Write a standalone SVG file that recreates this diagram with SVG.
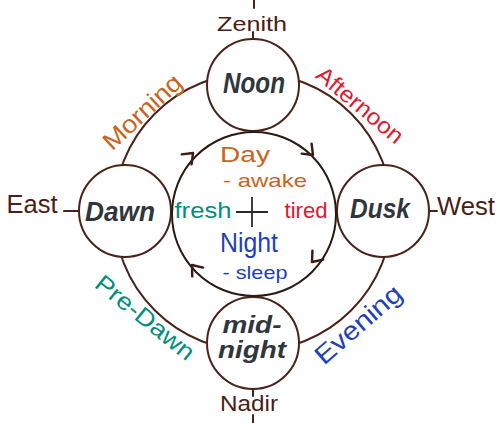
<svg xmlns="http://www.w3.org/2000/svg" width="500" height="423" viewBox="0 0 500 423">
<defs>
<style>
.ln{fill:none;stroke:#4b2219;stroke-width:2;stroke-linecap:round}
.node{fill:#ffffff;stroke:#4b2219;stroke-width:2}
.nm{font-family:"Liberation Sans",Arial,sans-serif;font-style:italic;font-weight:bold;fill:#30363c;text-anchor:middle}
.dir{font-family:"Liberation Sans",Arial,sans-serif;fill:#4a1e14;text-anchor:middle}
.lab{font-family:"Liberation Sans",Arial,sans-serif;text-anchor:middle}
.chev{fill:none;stroke:#3a1a12;stroke-width:2.4;stroke-linecap:round;stroke-linejoin:round}
</style>
<path id="chev" d="M-9,-7 L0,0 L-9,7"/>
</defs>
<rect width="500" height="423" fill="#ffffff"/>

<g id="connectors">
<path class="ln" d="M114,212 A139,139 0 0 1 253,73"/>
<path class="ln" d="M253,73 A139,139 0 0 1 392,212"/>
<path class="ln" d="M392,212 A139,139 0 0 1 253,351"/>
<path class="ln" d="M253,351 A139,139 0 0 1 114,212"/>
<path class="ln" d="M254,0 V8 M253,32 V39 M253,389 V396 M253,415 V423 M64,211 H79 M429,211 H437"/>
</g>

<g id="noon">
<circle class="node" cx="253" cy="85" r="46"/>
<text class="nm" x="254" y="93" font-size="30" textLength="62" lengthAdjust="spacingAndGlyphs">Noon</text>
</g>
<g id="dawn">
<circle class="node" cx="125" cy="211" r="46"/>
<text class="nm" x="120" y="221" font-size="27" textLength="70" lengthAdjust="spacingAndGlyphs">Dawn</text>
</g>
<g id="dusk">
<circle class="node" cx="383" cy="211" r="46"/>
<text class="nm" x="380" y="218" font-size="27" textLength="60" lengthAdjust="spacingAndGlyphs">Dusk</text>
</g>
<g id="midnight">
<circle class="node" cx="253" cy="343" r="46"/>
<text class="nm" x="252" y="333" font-size="23" textLength="59" lengthAdjust="spacingAndGlyphs">mid-</text>
<text class="nm" x="252" y="358" font-size="23" textLength="68" lengthAdjust="spacingAndGlyphs">night</text>
</g>

<g id="cycle">
<circle cx="254" cy="214" r="82" fill="none" stroke="#2a1a14" stroke-width="2"/>
<use href="#chev" class="chev" transform="translate(193,153) rotate(-45)"/>
<use href="#chev" class="chev" transform="translate(313,155) rotate(45)"/>
<use href="#chev" class="chev" transform="translate(312,262) rotate(130)"/>
<use href="#chev" class="chev" transform="translate(192,265) rotate(231)"/>
<path d="M236,212 H268 M252,197 V227" fill="none" stroke="#2a2a2a" stroke-width="1.8"/>
<text class="lab" x="245" y="162" font-size="22" fill="#c8641e" textLength="50" lengthAdjust="spacingAndGlyphs">Day</text>
<text class="lab" x="265" y="187" font-size="19" fill="#c8641e" textLength="84" lengthAdjust="spacingAndGlyphs">- awake</text>
<text class="lab" x="249" y="252" font-size="27" fill="#1f3fb8" textLength="58" lengthAdjust="spacingAndGlyphs">Night</text>
<text class="lab" x="255" y="279" font-size="19" fill="#1f3fb8" textLength="65" lengthAdjust="spacingAndGlyphs">- sleep</text>
<text class="lab" x="203" y="218" font-size="22" fill="#00907a" textLength="57" lengthAdjust="spacingAndGlyphs">fresh</text>
<text class="lab" x="306" y="218" font-size="22" fill="#e01830" textLength="43" lengthAdjust="spacingAndGlyphs">tired</text>
</g>

<g id="labels">
<text class="dir" x="252" y="31" font-size="21" textLength="70" lengthAdjust="spacingAndGlyphs">Zenith</text>
<text class="dir" x="249" y="411" font-size="22" textLength="58" lengthAdjust="spacingAndGlyphs">Nadir</text>
<text class="dir" x="32" y="213" font-size="25" textLength="51" lengthAdjust="spacingAndGlyphs">East</text>
<text class="dir" x="466" y="215" font-size="25" textLength="58" lengthAdjust="spacingAndGlyphs">West</text>
<text class="lab" transform="translate(148,118) rotate(-43)" font-size="25" fill="#c8641e" textLength="98" lengthAdjust="spacingAndGlyphs">Morning</text>
<text class="lab" transform="translate(355,111) rotate(40)" font-size="23" fill="#e01830" textLength="106" lengthAdjust="spacingAndGlyphs">Afternoon</text>
<text class="lab" transform="translate(140,324) rotate(39)" font-size="24" fill="#00907a" textLength="120" lengthAdjust="spacingAndGlyphs">Pre-Dawn</text>
<text class="lab" transform="translate(364,331) rotate(-41)" font-size="26" fill="#1f3fb8" textLength="106" lengthAdjust="spacingAndGlyphs">Evening</text>
</g>
</svg>
